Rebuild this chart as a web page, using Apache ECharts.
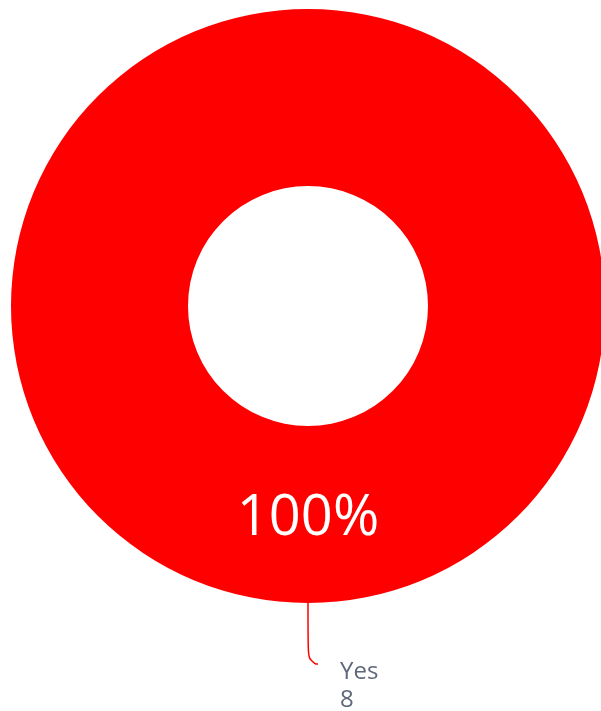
<!DOCTYPE html>
<html>
<head>
<meta charset="utf-8">
<style>
  html, body { margin: 0; padding: 0; background: #ffffff; }
  #chart { width: 601px; height: 711px; }
</style>
<script src="https://cdn.jsdelivr.net/npm/echarts@6/dist/echarts.min.js"></script>
</head>
<body>
<div id="chart"></div>
<script>
// Answer categories and response counts
const categories = ['Yes'];
const counts = [8];
const sliceColors = ['#ff0000'];

const pieData = categories.map((name, i) => ({
  name: name,
  value: counts[i],
  itemStyle: { color: sliceColors[i] }
}));

const center = [308, 306];
const radius = [120, 297];

const chart = echarts.init(document.getElementById('chart'), null, { renderer: 'canvas' });

chart.setOption({
  animation: false,
  backgroundColor: '#ffffff',
  series: [
    {
      // Ring with the share printed inside each slice
      type: 'pie',
      center: center,
      radius: radius,
      startAngle: 90,
      avoidLabelOverlap: false,
      silent: true,
      data: pieData,
      itemStyle: { borderWidth: 0 },
      label: {
        show: true,
        position: 'inside',
        formatter: '{d}%',
        color: '#ffffff',
        fontFamily: 'Open Sans',
        fontSize: 56,
        fontWeight: 'normal',
        offset: [0, 2]
      },
      labelLine: { show: false }
    },
    {
      // Same data again, transparent, carrying the name/count callouts
      type: 'pie',
      center: center,
      radius: radius,
      startAngle: 90,
      avoidLabelOverlap: false,
      silent: true,
      data: pieData.map(d => ({ name: d.name, value: d.value, itemStyle: { color: 'rgba(0,0,0,0)' },
        labelLine: { lineStyle: { color: d.itemStyle.color } } })),
      label: {
        show: true,
        position: 'outside',
        // spacer row keeps the name row level with the end of the leader line
        formatter: '{s|}\n{t|{b}}\n{t|{c}}',
        color: '#5f6878',
        fontFamily: 'Open Sans',
        fontSize: 24,
        distanceToLabelLine: 5,
        padding: [0, 0, 0, 17],
        rich: {
          s: { height: 44, fontSize: 10 },
          t: { fontFamily: 'Open Sans', fontSize: 24, lineHeight: 28, color: '#5f6878' }
        }
      },
      labelLine: {
        show: true,
        length: 61,
        length2: 10,
        smooth: 0.7,
        lineStyle: { width: 1.5 }
      }
    }
  ]
});
</script>
</body>
</html>
